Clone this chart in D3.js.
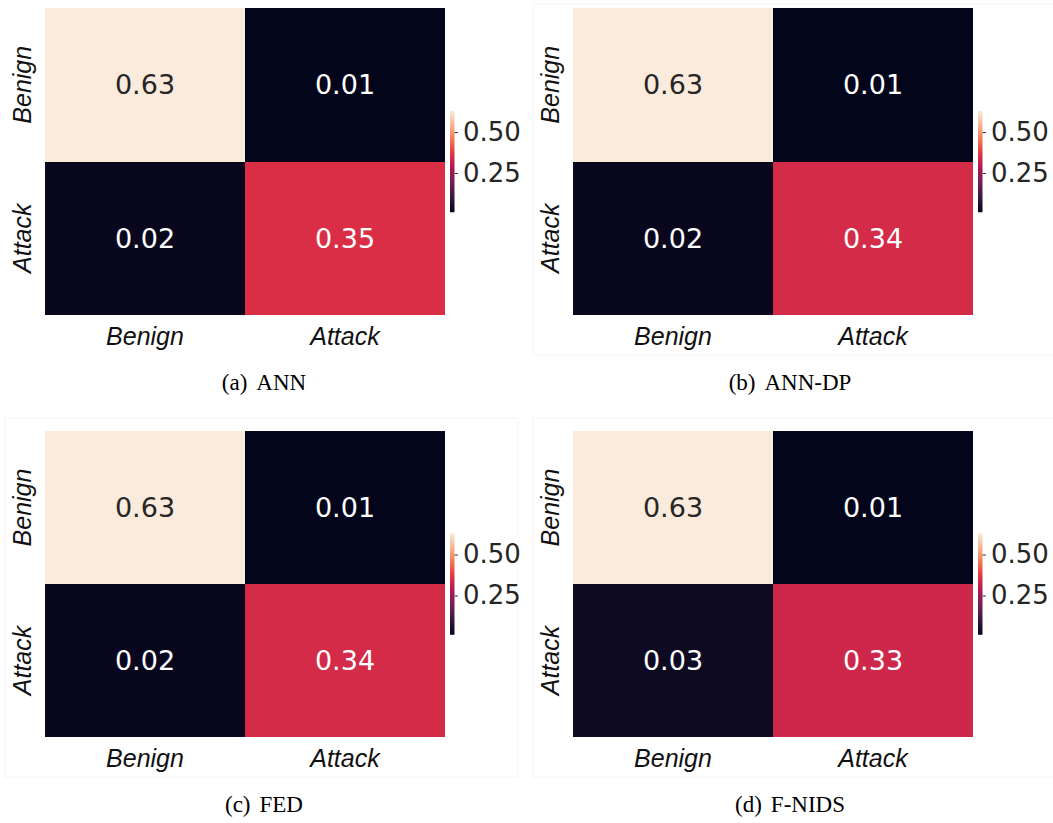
<!DOCTYPE html>
<html>
<head>
<meta charset="utf-8">
<script src="https://cdn.jsdelivr.net/npm/d3@7"></script>
<style>
  html, body { margin: 0; padding: 0; background: #ffffff; }
  svg { display: block; }
</style>
</head>
<body>
<svg id="fig" width="1053" height="823"></svg>
<script>
// Class labels (true class on rows, predicted class on columns)
const classes = ["Benign", "Attack"];

// Normalised confusion matrices, row-major:
// [Benign→Benign, Benign→Attack, Attack→Benign, Attack→Attack]
const annValues   = [0.63, 0.01, 0.02, 0.35];
const annDpValues = [0.63, 0.01, 0.02, 0.34];
const fedValues   = [0.63, 0.01, 0.02, 0.34];
const fnidsValues = [0.63, 0.01, 0.03, 0.33];

const panelTags  = ["(a)", "(b)", "(c)", "(d)"];
const panelNames = ["ANN", "ANN-DP", "FED", "F-NIDS"];
const colorbarTicks = [0.25, 0.50];

// seaborn "rocket" colormap anchors
const rocketStops  = [0, 1/7, 2/7, 3/7, 4/7, 5/7, 6/7, 1];
const rocketColors = ["#03051a", "#35193e", "#701f57", "#ad1759",
                      "#e13342", "#f37651", "#f6b48f", "#faebdd"];
const rocket = d3.scaleLinear()
  .domain(rocketStops)
  .range(rocketColors)
  .interpolate(d3.interpolateRgb)
  .clamp(true);

const svg = d3.select("#fig");

// very faint frames around three of the sub-figures
const frames = [
  { x: 533, y: 4,   w: 525, h: 351 },
  { x: 5,   y: 418, w: 513, h: 359 },
  { x: 533, y: 418, w: 525, h: 359 }
];
svg.selectAll("rect.frame").data(frames).join("rect")
  .attr("class", "frame")
  .attr("x", d => d.x).attr("y", d => d.y)
  .attr("width", d => d.w).attr("height", d => d.h)
  .attr("fill", "none").attr("stroke", "#f6f6f6").attr("stroke-width", 1);

const layout = [
  { values: annValues,   left: 45,  top: 8,   height: 307, capX: 264,   capY: 390 },
  { values: annDpValues, left: 573, top: 8,   height: 307, capX: 790,   capY: 390 },
  { values: fedValues,   left: 45,  top: 431, height: 306, capX: 264,   capY: 812 },
  { values: fnidsValues, left: 573, top: 431, height: 306, capX: 790,   capY: 812 }
];

const heatW = 400;
const numFont = "'DejaVu Sans', sans-serif";
const catFont = "'Liberation Sans', Arial, sans-serif";

function luminance(c) {
  const rgb = d3.rgb(c);
  const f = v => { v /= 255; return v <= 0.03928 ? v / 12.92 : Math.pow((v + 0.055) / 1.055, 2.4); };
  return 0.2126 * f(rgb.r) + 0.7152 * f(rgb.g) + 0.0722 * f(rgb.b);
}

layout.forEach((p, i) => {
  const g = svg.append("g").attr("transform", `translate(${p.left},${p.top})`);

  const x = d3.scaleBand().domain(classes).range([0, heatW]);
  const y = d3.scaleBand().domain(classes).range([0, p.height]);

  const cells = p.values.map((v, k) => ({
    row: classes[Math.floor(k / classes.length)],
    col: classes[k % classes.length],
    value: v
  }));

  const [vmin, vmax] = d3.extent(p.values);
  const color = d3.scaleLinear().domain([vmin, vmax]).range([0, 1]);
  const fillOf = v => rocket(color(v));

  // heatmap cells
  g.selectAll("rect.cell").data(cells).join("rect")
    .attr("class", "cell")
    .attr("x", d => x(d.col))
    .attr("y", d => y(d.row))
    .attr("width", x.bandwidth())
    .attr("height", y.bandwidth())
    .attr("fill", d => fillOf(d.value))
    .attr("shape-rendering", "crispEdges");

  // cell annotations
  g.selectAll("text.annot").data(cells).join("text")
    .attr("class", "annot")
    .attr("x", d => x(d.col) + x.bandwidth() / 2)
    .attr("y", d => y(d.row) + y.bandwidth() / 2)
    .attr("text-anchor", "middle")
    .attr("dominant-baseline", "central")
    .attr("font-family", numFont)
    .attr("font-size", 27)
    .attr("fill", d => luminance(fillOf(d.value)) > 0.408 ? "#262626" : "#ffffff")
    .text(d => d3.format(".2f")(d.value));

  // x tick labels (predicted class)
  g.selectAll("text.xlab").data(classes).join("text")
    .attr("class", "xlab")
    .attr("x", d => x(d) + x.bandwidth() / 2)
    .attr("y", p.height + 29.5)
    .attr("text-anchor", "middle")
    .attr("font-family", catFont)
    .attr("font-style", "italic")
    .attr("font-size", 25)
    .attr("fill", "#111111")
    .text(d => d);

  // y tick labels (true class), rotated
  g.selectAll("text.ylab").data(classes).join("text")
    .attr("class", "ylab")
    .attr("transform", d => `translate(-14,${y(d) + y.bandwidth() / 2}) rotate(-90)`)
    .attr("text-anchor", "middle")
    .attr("font-family", catFont)
    .attr("font-style", "italic")
    .attr("font-size", 25)
    .attr("fill", "#111111")
    .text(d => d);

  // colour bar
  const cbW = 4.5, cbH = 101.5;
  const cbX = heatW + 5;
  const cbY = p.height / 2 - cbH / 2;
  const gradId = `cbgrad${i}`;
  const grad = svg.append("defs").append("linearGradient")
    .attr("id", gradId)
    .attr("x1", 0).attr("y1", 1).attr("x2", 0).attr("y2", 0);
  d3.range(0, 1.0001, 0.02).forEach(t => {
    grad.append("stop").attr("offset", t).attr("stop-color", rocket(t));
  });

  const cb = g.append("g").attr("transform", `translate(${cbX},${cbY})`);
  cb.append("rect")
    .attr("width", cbW).attr("height", cbH)
    .attr("fill", `url(#${gradId})`);

  const cbScale = d3.scaleLinear().domain([vmin, vmax]).range([cbH, 0]);
  const cbAxis = d3.axisRight(cbScale)
    .tickValues(colorbarTicks)
    .tickFormat(d3.format(".2f"))
    .tickSize(3.5)
    .tickPadding(5);
  const ax = cb.append("g").attr("transform", `translate(${cbW},0)`).call(cbAxis);
  ax.select(".domain").remove();
  ax.selectAll(".tick line").attr("stroke", "#333333").attr("stroke-width", 1);
  ax.selectAll(".tick text")
    .attr("font-family", numFont)
    .attr("font-size", 26)
    .attr("fill", "#262626");

  // sub-figure caption
  const cap = svg.append("text")
    .attr("x", p.capX)
    .attr("y", p.capY)
    .attr("text-anchor", "middle")
    .attr("font-family", "'Liberation Serif', 'Times New Roman', serif")
    .attr("font-size", 23)
    .attr("fill", "#000000");
  cap.append("tspan").text(panelTags[i]);
  cap.append("tspan").attr("dx", 9).text(panelNames[i]);
});
</script>
</body>
</html>
